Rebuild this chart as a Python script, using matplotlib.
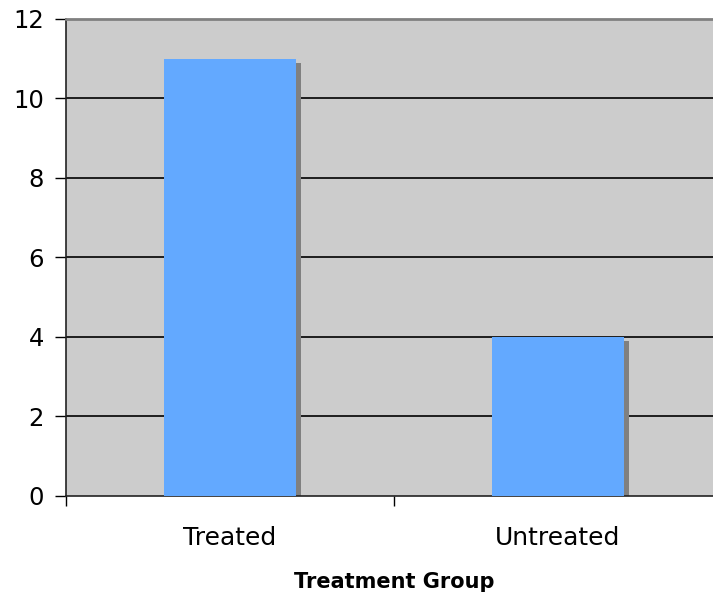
import matplotlib
matplotlib.use("Agg")
import matplotlib.pyplot as plt
from matplotlib.patches import Rectangle

categories = ["Treated", "Untreated"]
counts = [11, 4]
y_ticks = [0, 2, 4, 6, 8, 10, 12]

W, H = 713, 596
fig = plt.figure(figsize=(W / 100, H / 100), dpi=100)

# plot area in pixels: left 66, top 19, bottom 495, category width 328 -> right 722
left_px, top_px, bottom_px, right_px = 66, 19, 495.5, 722
ax = fig.add_axes([left_px / W, 1 - bottom_px / H,
                   (right_px - left_px) / W, (bottom_px - top_px) / H])
ax.set_facecolor("#CCCCCC")

x = list(range(len(categories)))
bar_w = 0.4
# drop shadow behind each bar
dx, dy = 0.0155, 0.1
for xi, v in zip(x, counts):
    ax.add_patch(Rectangle((xi - bar_w / 2 + dx, 0), bar_w, v - dy,
                           facecolor="#808080", edgecolor="none", zorder=2))
ax.bar(x, counts, width=bar_w, color="#63A9FF", edgecolor="none", zorder=3)

ax.set_xlim(-0.5, len(categories) - 0.5)
ax.set_ylim(0, 12)
ax.set_yticks(y_ticks)
ax.set_yticklabels([str(t) for t in y_ticks])
for t in y_ticks[1:-1]:
    ax.axhline(t, color="black", lw=1.2, zorder=1)

ax.set_xticks(x)
ax.set_xticklabels(categories)
ax.set_xticks([-0.5, 0.5, 1.5], minor=True)
ax.tick_params(axis="x", which="major", length=0, pad=22, labelsize=18)
ax.tick_params(axis="x", which="minor", length=7, width=1, color="black", direction="out")
ax.tick_params(axis="y", length=8, width=1, color="black", direction="out", pad=8,
               labelsize=17.5)

for side in ["left", "bottom"]:
    ax.spines[side].set_color("#222222")
    ax.spines[side].set_linewidth(1.2)
ax.spines["top"].set_color("#808080")
ax.spines["top"].set_linewidth(2)
ax.spines["right"].set_visible(False)

fig.text(394 / W, 1 - 582 / H, "Treatment Group", ha="center", va="center",
         fontsize=15, fontweight="bold")

fig.savefig("out.png", dpi=100)
